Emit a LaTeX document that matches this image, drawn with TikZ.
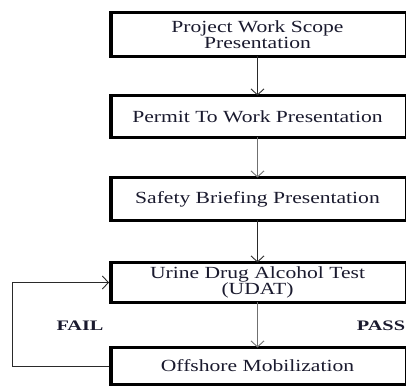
\documentclass[tikz,border=0pt]{standalone}
\usepackage{fontspec}
\setmainfont{Liberation Serif}
\newfontfamily\boxfont[FakeStretch=1.27]{Liberation Serif}
\newfontfamily\lblfont[FakeStretch=1.4]{Liberation Serif}
\usetikzlibrary{arrows.meta}
\definecolor{txt}{HTML}{1A1A2E}
\definecolor{darkln}{HTML}{2A2A2A}
\definecolor{lightln}{HTML}{707070}
\begin{document}
\begin{tikzpicture}[x=1pt,y=-1pt,
  stepbox/.style={draw=black, line width=1pt, minimum width=296pt, inner sep=0pt,
    align=center, text=txt, font=\boxfont\fontsize{17}{16.5}\selectfont},
  flowarrow/.style={line width=0.9pt, -{Straight Barb[length=6pt,width=13pt]}},
  lbl/.style={text=txt, font=\lblfont\bfseries\fontsize{14.5}{15}\selectfont}]
\useasboundingbox (0,0) rectangle (407,387);
\node[stepbox, minimum height=43pt] (b1) at (257.5,34.5) {Project Work Scope\\Presentation};
\node[stepbox, minimum height=41pt] (b2) at (257.5,116.5) {Permit To Work Presentation};
\node[stepbox, minimum height=42pt] (b3) at (257.5,199) {Safety Briefing Presentation};
\node[stepbox, minimum height=39pt] (b4) at (257.5,282.5) {Urine Drug Alcohol Test\\(UDAT)};
\node[stepbox, minimum height=36pt] (b5) at (257.5,366) {Offshore Mobilization};
% thick left, top and bottom edges
\foreach \b in {b1,b2,b3,b4,b5}{
  \draw[line width=4.5pt] ([xshift=2pt]\b.south west) -- ([xshift=2pt]\b.north west);
  \draw[line width=2.8pt] (\b.north west) -- (\b.north east);
  \draw[line width=2.8pt] (\b.south west) -- (\b.south east);
}
\draw[flowarrow, darkln] (b1.south) -- (b2.north);
\draw[flowarrow, lightln] (b2.south) -- (b3.north);
\draw[flowarrow, darkln] (b3.south) -- (b4.north);
\draw[flowarrow, lightln] (b4.south) -- (b5.north);
\draw[flowarrow, darkln] (b5.west) -- ++(-96.5,0) |- (b4.west);
\node[lbl] (fail) at (80,326) {FAIL};
\node[lbl] (pass) at (381,326) {PASS};
\end{tikzpicture}
\end{document}
